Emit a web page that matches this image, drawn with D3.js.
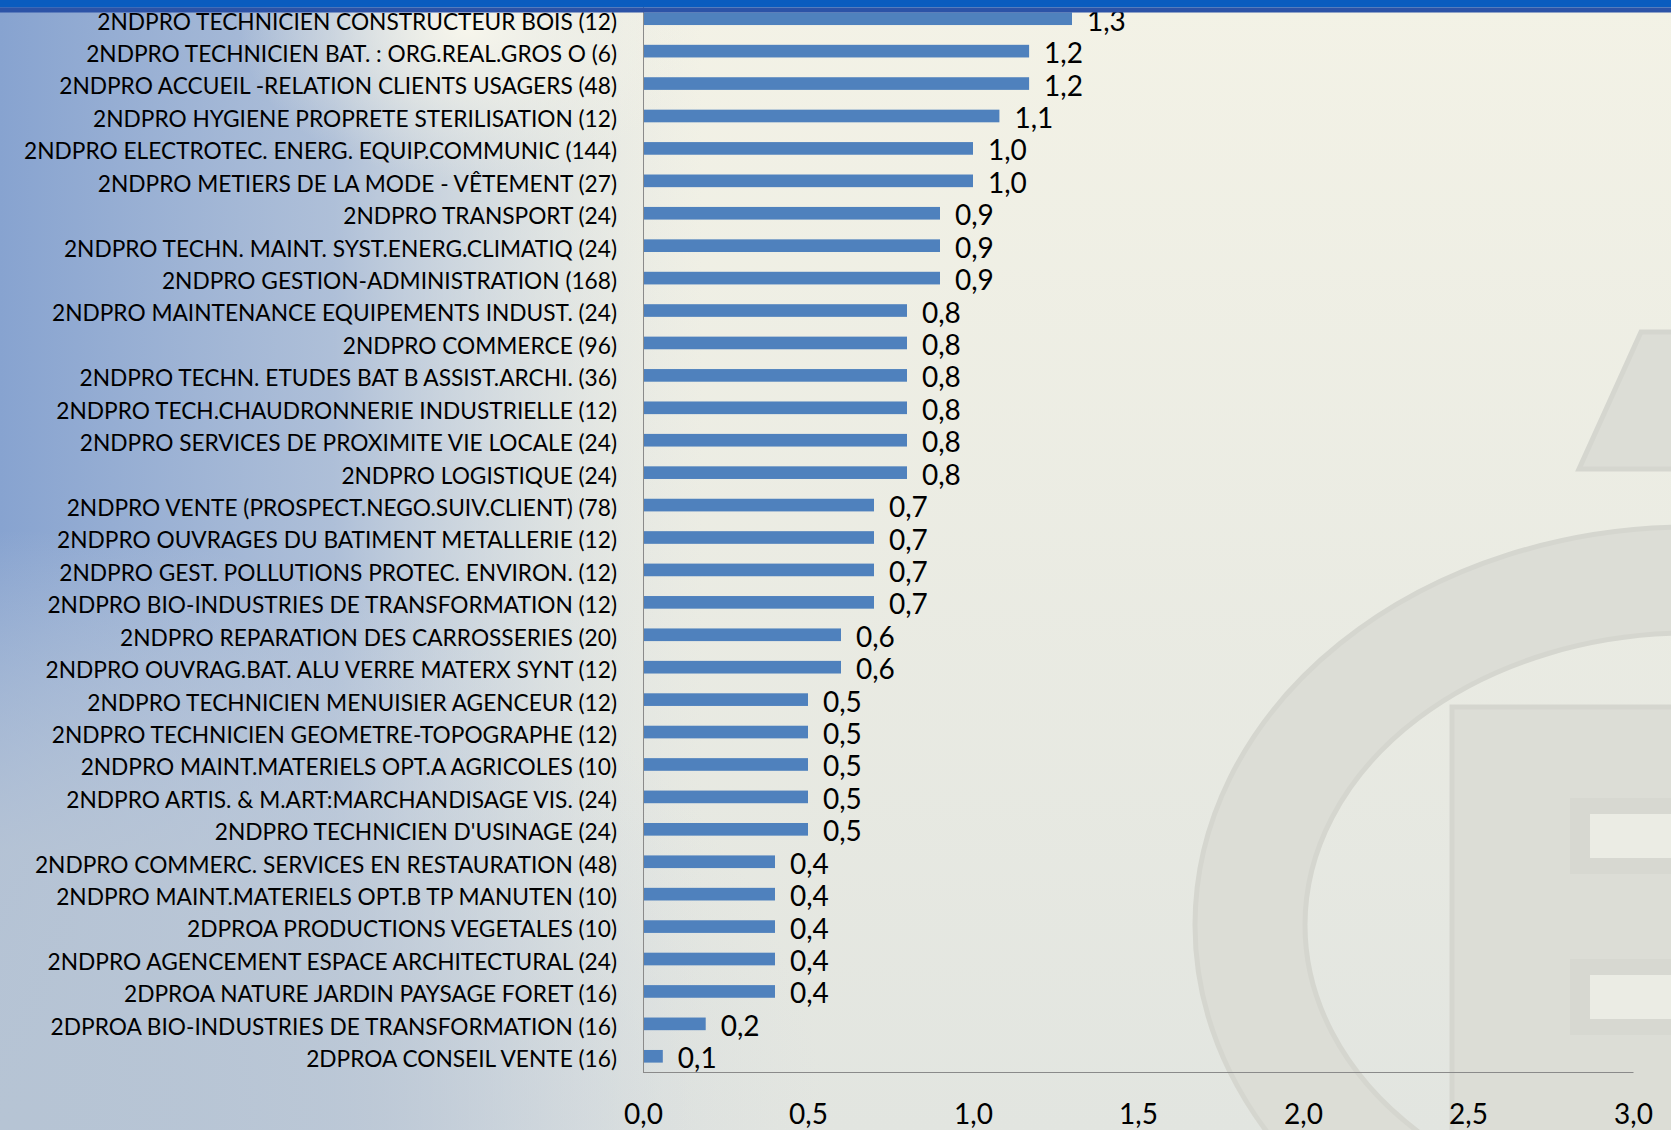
<!DOCTYPE html>
<html>
<head>
<meta charset="utf-8">
<script src="https://cdn.jsdelivr.net/npm/d3@7"></script>
<style>
body { margin: 0; overflow: hidden; }
svg { display: block; }
</style>
</head>
<body>
<svg width="1671" height="1130"></svg>
<script>
var categories = [
	"2NDPRO TECHNICIEN CONSTRUCTEUR BOIS (12)",
	"2NDPRO TECHNICIEN BAT. : ORG.REAL.GROS O (6)",
	"2NDPRO ACCUEIL -RELATION CLIENTS USAGERS (48)",
	"2NDPRO HYGIENE PROPRETE STERILISATION (12)",
	"2NDPRO ELECTROTEC. ENERG. EQUIP.COMMUNIC (144)",
	"2NDPRO METIERS DE LA MODE - VÊTEMENT (27)",
	"2NDPRO TRANSPORT (24)",
	"2NDPRO TECHN. MAINT. SYST.ENERG.CLIMATIQ (24)",
	"2NDPRO GESTION-ADMINISTRATION (168)",
	"2NDPRO MAINTENANCE EQUIPEMENTS INDUST. (24)",
	"2NDPRO COMMERCE (96)",
	"2NDPRO TECHN. ETUDES BAT B ASSIST.ARCHI. (36)",
	"2NDPRO TECH.CHAUDRONNERIE INDUSTRIELLE (12)",
	"2NDPRO SERVICES DE PROXIMITE VIE LOCALE (24)",
	"2NDPRO LOGISTIQUE (24)",
	"2NDPRO VENTE (PROSPECT.NEGO.SUIV.CLIENT) (78)",
	"2NDPRO OUVRAGES DU BATIMENT METALLERIE (12)",
	"2NDPRO GEST. POLLUTIONS PROTEC. ENVIRON. (12)",
	"2NDPRO BIO-INDUSTRIES DE TRANSFORMATION (12)",
	"2NDPRO REPARATION DES CARROSSERIES (20)",
	"2NDPRO OUVRAG.BAT. ALU VERRE MATERX SYNT (12)",
	"2NDPRO TECHNICIEN MENUISIER AGENCEUR (12)",
	"2NDPRO TECHNICIEN GEOMETRE-TOPOGRAPHE (12)",
	"2NDPRO MAINT.MATERIELS OPT.A AGRICOLES (10)",
	"2NDPRO ARTIS. & M.ART:MARCHANDISAGE VIS. (24)",
	"2NDPRO TECHNICIEN D'USINAGE (24)",
	"2NDPRO COMMERC. SERVICES EN RESTAURATION (48)",
	"2NDPRO MAINT.MATERIELS OPT.B TP MANUTEN (10)",
	"2DPROA PRODUCTIONS VEGETALES (10)",
	"2NDPRO AGENCEMENT ESPACE ARCHITECTURAL (24)",
	"2DPROA NATURE JARDIN PAYSAGE FORET (16)",
	"2DPROA BIO-INDUSTRIES DE TRANSFORMATION (16)",
	"2DPROA CONSEIL VENTE (16)"
];
var values = [1.3, 1.17, 1.17, 1.08, 1.0, 1.0, 0.9, 0.9, 0.9, 0.8, 0.8, 0.8, 0.8, 0.8, 0.8,
	0.7, 0.7, 0.7, 0.7, 0.6, 0.6, 0.5, 0.5, 0.5, 0.5, 0.5, 0.4, 0.4, 0.4, 0.4, 0.4, 0.19, 0.06];
var xTicks = [0, 0.5, 1.0, 1.5, 2.0, 2.5, 3.0];

var svg = d3.select("svg");
var width = 1671;
var height = 1130;
var labelFont = "Lato, 'Open Sans', sans-serif";

var x = d3.scaleLinear().domain([0, 3]).range([643, 1633]);
var y = d3.scaleBand().domain(categories).range([2.5, 1072.5]).paddingInner(0.61).paddingOuter(0.305);

function comma(v) {
	return d3.format(".1f")(v).replace(".", ",");
}

function gradient(id, x1, y1, x2, y2, stops) {
	var g = defs.append("linearGradient").attr("id", id)
		.attr("x1", x1).attr("y1", y1).attr("x2", x2).attr("y2", y2);
	stops.forEach(function (s) {
		g.append("stop").attr("offset", s[0]).attr("stop-color", s[1]).attr("stop-opacity", s[2]);
	});
}

var defs = svg.append("defs");
gradient("base", 0, 0, 0, 1, [[0, "#f3f2e6", 1], [1, "#e2e5e0", 1]]);
gradient("leftBlue", 0, 0, 1, 0, [[0, "#87a3d0", 1], [0.2, "#a3b7d6", 0.85], [0.42, "#d5dde3", 0]]);
var rg = defs.append("radialGradient").attr("id", "bottomGrey")
	.attr("cx", 0).attr("cy", 1).attr("r", 1.0);
rg.append("stop").attr("offset", 0).attr("stop-color", "#b6c4d4").attr("stop-opacity", 1);
rg.append("stop").attr("offset", 0.35).attr("stop-color", "#bfcad6").attr("stop-opacity", 0.8);
rg.append("stop").attr("offset", 0.75).attr("stop-color", "#d8dde0").attr("stop-opacity", 0);
var glow = defs.append("radialGradient").attr("id", "glow");
glow.append("stop").attr("offset", 0).attr("stop-color", "#f7f6ec").attr("stop-opacity", 1);
glow.append("stop").attr("offset", 1).attr("stop-color", "#f3f2e6").attr("stop-opacity", 0);

function background() {
	svg.append("rect").attr("width", width).attr("height", height).attr("fill", "url(#base)");
	svg.append("rect").attr("width", width).attr("height", height).attr("fill", "url(#leftBlue)");
	svg.append("rect").attr("x", 0).attr("y", 330).attr("width", 1100).attr("height", 800).attr("fill", "url(#bottomGrey)");
	svg.append("ellipse").attr("cx", 470).attr("cy", 30).attr("rx", 230).attr("ry", 150).attr("fill", "url(#glow)");
}

function watermark() {
	var g = svg.append("g").attr("fill", "#dcddd6").attr("stroke", "#d5d6cf").attr("stroke-width", 5);
	g.append("path").attr("d", "M1641,332 L1680,332 L1680,469 L1579,469 Z");
	var cx = 1690, cy = 925;
	g.append("path").attr("fill-rule", "evenodd")
		.attr("d", "M" + (cx - 495) + "," + cy + " a495,398 0 1,0 990,0 a495,398 0 1,0 -990,0 Z" +
			" M" + (cx - 385) + "," + cy + " a385,292 0 1,0 770,0 a385,292 0 1,0 -770,0 Z");
	g.append("rect").attr("x", 1452).attr("y", 707).attr("width", 260).attr("height", 460);
	var slots = svg.append("g");
	[[798, 874], [959, 1035]].forEach(function (s) {
		slots.append("rect").attr("x", 1570).attr("y", s[0]).attr("width", 120).attr("height", s[1] - s[0])
			.attr("fill", "#d7d8d1");
		slots.append("rect").attr("x", 1590).attr("y", s[0] + 16).attr("width", 100).attr("height", s[1] - s[0] - 32)
			.attr("fill", "#ebece4");
	});
}

function bars() {
	var data = categories.map(function (c, i) { return { name: c, value: values[i] }; });
	svg.append("g").selectAll("rect").data(data).enter().append("rect")
		.attr("x", x(0))
		.attr("y", function (d) { return y(d.name); })
		.attr("width", function (d) { return x(d.value) - x(0); })
		.attr("height", y.bandwidth())
		.attr("fill", "#4f81bd");
	svg.append("g").selectAll("text").data(data).enter().append("text")
		.attr("x", function (d) { return x(d.value) + 15; })
		.attr("y", function (d) { return y(d.name) + y.bandwidth() / 2 + 12; })
		.attr("font-family", labelFont)
		.attr("font-size", 28)
		.attr("fill", "#000")
		.text(function (d) { return comma(d.value); });
}

function axes() {
	var left = svg.append("g").attr("transform", "translate(" + x(0) + ",0)")
		.call(d3.axisLeft(y).tickSize(0).tickPadding(26));
	left.select(".domain").attr("stroke", "#8a8a8a");
	left.selectAll("text").attr("font-family", labelFont).attr("font-size", 22.7)
		.attr("fill", "#000").attr("dy", "0.48em");

	var bottom = svg.append("g").attr("transform", "translate(0,1072)")
		.call(d3.axisBottom(x).tickValues(xTicks).tickSize(0).tickSizeOuter(0).tickFormat(comma));
	bottom.select(".domain").attr("stroke", "#8a8a8a");
	bottom.selectAll("text").attr("font-family", labelFont).attr("font-size", 28)
		.attr("fill", "#000").attr("y", 52).attr("dy", 0);
}

function topBand() {
	svg.append("rect").attr("width", width).attr("height", 7.5).attr("fill", "#0a5cbf");
	svg.append("rect").attr("y", 7.5).attr("width", width).attr("height", 5).attr("fill", "#2c53a7");
}

background();
watermark();
bars();
axes();
topBand();
</script>
</body>
</html>
